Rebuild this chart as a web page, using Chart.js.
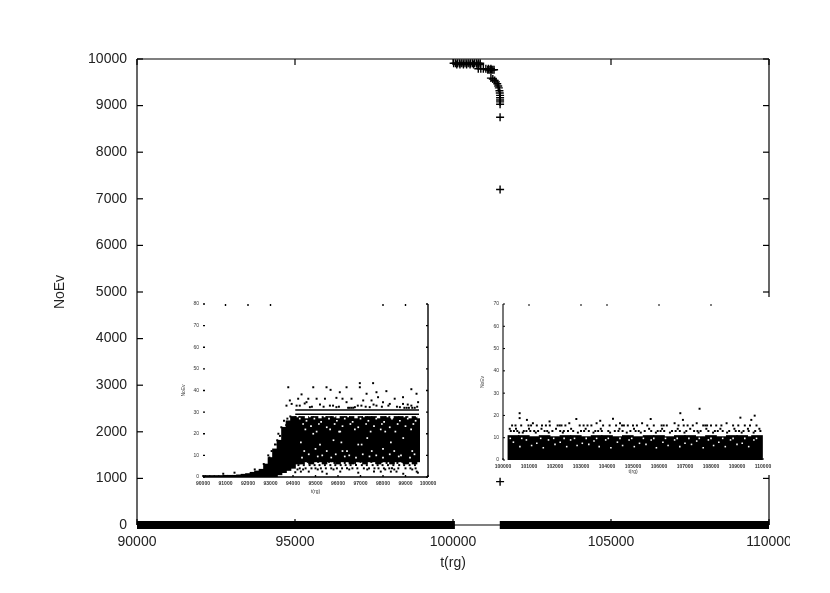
<!DOCTYPE html>
<html>
<head>
<meta charset="utf-8">
<script src="https://cdn.jsdelivr.net/npm/chart.js@4/dist/chart.umd.min.js"></script>
<style>
html, body { margin: 0; background: #fff; }
#page { position: relative; width: 790px; height: 593px; overflow: hidden; filter: blur(0.4px); }
canvas { position: absolute; display: block; }
#main { left: 0; top: 0; }
#inset_left { left: 178px; top: 297px; background: #fff; }
#inset_right { left: 476px; top: 297px; background: #fff; }
</style>
</head>
<body>
<div id="page">
<canvas id="main" width="830" height="593"></canvas>
<canvas id="inset_left" width="268" height="201"></canvas>
<canvas id="inset_right" width="300" height="178"></canvas>
</div>
<script>
// main plot
var mainXTicks = [90000, 95000, 100000, 105000, 110000];
var mainYTicks = [0, 1000, 2000, 3000, 4000, 5000, 6000, 7000, 8000, 9000, 10000];
var baseT1 = [90000, 100060];
var baseT2 = [101480, 110000];
var baseN = [0, 0];
var fallT = [100020, 100080, 100140, 100200, 100260, 100320, 100380, 100440, 100500, 100560, 100620, 100680, 100740, 100800, 100860, 100120, 100220, 100330, 100430, 100540, 100650, 100760, 100860, 100800, 100880, 100960, 101040, 101120, 101200, 101100, 101140, 101180, 101220, 101260, 101300, 101200, 101260, 101320, 101360, 101400, 101430, 101450, 101470, 101480, 101490, 101490, 101490, 101490, 101490, 101490, 101490, 101490];
var fallN = [9910, 9910, 9910, 9910, 9910, 9910, 9910, 9910, 9910, 9910, 9910, 9910, 9910, 9910, 9910, 9880, 9880, 9880, 9880, 9880, 9880, 9880, 9880, 9790, 9790, 9790, 9790, 9790, 9790, 9770, 9770, 9770, 9770, 9770, 9770, 9590, 9570, 9540, 9510, 9470, 9420, 9380, 9320, 9270, 9220, 9170, 9120, 9080, 9030, 8750, 7200, 930];

// left inset
var leftXTicks = [90000, 91000, 92000, 93000, 94000, 95000, 96000, 97000, 98000, 99000, 100000];
var leftYTicks = [0, 10, 20, 30, 40, 50, 60, 70, 80];
var leftTopTicks = [91000, 92000, 93000, 98000, 99000];
var leftBinT = [90000, 90200, 90400, 90600, 90800, 91000, 91200, 91400, 91600, 91800, 92000, 92200, 92400, 92600, 92800, 93000, 93200, 93400, 93600, 93800, 94000, 94200, 94400, 94600, 94800, 95000, 95200, 95400, 95600, 95800, 96000, 96200, 96400, 96600, 96800, 97000, 97200, 97400, 97600, 97800, 98000, 98200, 98400, 98600, 98800, 99000, 99200, 99400, 99520];
var leftBinLow = [0, 0, 0, 0, 0, 0, 0, 0, 0, 0, 0, 0, 0, 0, 0, 0, 0, 1, 2, 3, 4, 6, 6, 7, 6, 7, 7, 6, 7, 7, 6, 7, 7, 6, 7, 7, 6, 7, 7, 6, 7, 7, 6, 7, 7, 6, 7, 6, 7];
var leftBinHigh = [0.7, 0.7, 0.7, 0.7, 0.7, 0.8, 0.8, 0.8, 1, 1.3, 1.6, 2.2, 2.8, 3.6, 6, 9, 13, 17, 23, 26, 28, 28, 28, 27, 28, 28, 27, 28, 28, 28, 27, 28, 28, 28, 27, 28, 28, 28, 28, 27, 28, 28, 27, 28, 28, 28, 27, 28, 27];
var leftRowT = [94100, 99600];
var leftRowBlack = [31, 31];
var leftRowBlack2 = [29, 29];
var leftRowWhite = [30, 30];
// speckle above the band, along the rise and under the band
var leftDotT = [93790, 94900, 95490, 95670, 96380, 96970, 96970, 97560, 96080, 97270, 97710, 98150, 99260, 99490, 94380, 94230, 93860, 94680, 95050, 95420, 95930, 96200, 96600, 97120, 97490, 97780, 98520, 98890, 99560, 93710, 93940, 94600, 96380, 98000, 98890, 95640, 97040, 97710, 98300, 99260,
    94750, 95930, 96600, 96750, 97410, 98750, 99410, 94160, 96450, 96520, 96680, 98950, 99050, 99150, 99300, 94000, 93650, 93500, 93300, 93150, 92950, 92700, 92300, 91400, 90900,
    94300, 94520, 94840, 95200, 95360, 95780, 96040, 96880, 97230, 97580, 97950, 98240, 98620, 99100, 99520,
    93560, 93420, 93300, 93200, 93050, 92900, 93700, 93600, 93480, 93350, 93750, 93880,
    94100, 94350, 95300, 97900, 98350, 98600, 99500, 94200, 94450, 94700, 95100, 95500, 95800, 96100, 96500, 96900, 97300, 97600, 98100, 98500, 98900, 99300, 99550,
    94300, 94560, 94820, 95000, 95240, 95460, 95700, 95950, 96180, 96400, 96640, 96860, 97150, 97380, 97620, 97800, 98040, 98280, 98400, 98680, 99000, 99220, 99450,
    94240, 94480, 94740, 94960, 95180, 95420, 95660, 95880, 96120, 96340, 96560, 96800, 97060, 97280, 97540, 97760, 97980, 98220, 98460, 98720, 98940, 99180, 99420,
    94150, 94420, 94660, 94900, 95120, 95380, 95600, 95840, 96060, 96300, 96520, 96760, 97000, 97240, 97480, 97700, 97940, 98160, 98420, 98640, 98860, 99120, 99360];
var leftDotN = [41.5, 41.5, 41.5, 40.3, 41.5, 43.4, 41.5, 43.4, 39.2, 38.5, 39.2, 39.7, 40.6, 38.5, 38.2, 36.2, 35.4, 36.2, 36.2, 36.2, 36.6, 36.2, 36.2, 35.4, 35.4, 36.9, 36.2, 36.9, 34.6, 33, 33.8, 34.6, 34.6, 34.6, 33.8, 33, 33, 33, 33.8, 33,
    32.3, 32.3, 32, 32.3, 32.3, 32.3, 32, 33, 32, 32, 32, 32, 32, 32, 32, 24, 19, 16, 15, 12, 9, 6, 3.5, 2, 1.5,
    33, 34, 32.5, 33.5, 32.5, 33, 32.5, 33, 32.5, 33.5, 32.5, 33, 32.5, 33.5, 32.5,
    21, 19, 17, 15, 12, 10, 24, 26, 23, 20, 27, 28,
    2.2, 2.5, 2.5, 2.5, 2.5, 2.5, 2.5, 3.5, 3.5, 2.5, 3.5, 1.5, 3.5, 2.5, 3.5, 2, 3.5, 2.5, 3.5, 3.5, 1.5, 3.5, 2,
    4, 4, 4, 4, 4, 4, 4, 4, 4, 4, 4, 4, 4, 4, 4, 4, 4, 4, 4, 4, 4, 4, 4,
    5.5, 5.5, 5.5, 5.5, 5.5, 5.5, 5.5, 5.5, 5.5, 5.5, 5.5, 5.5, 5.5, 5.5, 5.5, 5.5, 5.5, 5.5, 5.5, 5.5, 5.5, 5.5, 5.5,
    7, 6.5, 7, 6.5, 7, 6.5, 7, 6.5, 7, 6.5, 7, 6.5, 7, 6.5, 7, 6.5, 7, 6.5, 7, 6.5, 7, 6.5, 7];
var leftHoleT = [94300, 94600, 94950, 95250, 95600, 95950, 96300, 96650, 97000, 97350, 97700, 98050, 98400, 98750, 99100, 99450, 94450, 94800, 95150, 95500, 95850, 96200, 96550, 96900, 97250, 97600, 97950, 98300, 98650, 99000, 99350, 94900, 95800, 96100, 97300, 98100, 98900, 95000, 96200, 96900, 98000, 99300,
    94400, 95100, 95700, 96300, 96800, 97400, 98000, 98700, 99200, 94700, 95300, 95900, 96500, 97100, 97700, 98300, 98800, 99400, 94500, 95500, 96400, 97500, 98500,
    94200, 94750, 95400, 95850, 96450, 97150, 97800, 98200, 98950, 99500, 94550, 95050, 95650, 96050, 96750, 97450, 97900, 98550, 99250, 94350, 95200, 96150, 97050, 98350];
var leftHoleN = [27, 26, 27, 25.5, 27, 26, 27, 25.5, 27, 26, 27, 25.5, 27, 26, 27, 26, 24.5, 23.5, 24.5, 23, 24.5, 23.5, 24.5, 23, 24.5, 23.5, 24.5, 23, 24.5, 23.5, 24.5, 20, 17, 21, 18, 21, 18, 13, 12, 15, 13, 12,
    9, 9.5, 9, 9.5, 9, 9.5, 9, 9.5, 9, 10.5, 10, 10.5, 10, 10.5, 10, 10.5, 10, 10.5, 12, 12, 12, 12, 12,
    28, 28, 28, 28, 28, 28, 28, 28, 28, 28, 22, 21, 22, 21, 22, 21, 22, 21, 22, 16, 15, 16, 15, 16];

// right inset
var rightXTicks = [100000, 101000, 102000, 103000, 104000, 105000, 106000, 107000, 108000, 109000, 110000];
var rightYTicks = [0, 10, 20, 30, 40, 50, 60, 70];
var rightTopTicks = [101000, 103000, 104000, 106000, 108000];
var rightBinT = [100400, 100800, 101200, 101600, 102000, 102400, 102800, 103200, 103600, 104000, 104400, 104800, 105200, 105600, 106000, 106400, 106800, 107200, 107600, 108000, 108400, 108800, 109200, 109600, 109770];
var rightBinLow = [0, 0, 0, 0, 0, 0, 0, 0, 0, 0, 0, 0, 0, 0, 0, 0, 0, 0, 0, 0, 0, 0, 0, 0, 0];
var rightBinHigh = [11, 11, 10.5, 11, 10.5, 11, 11, 10.5, 11, 11, 10.5, 11, 10.5, 11, 11, 10.5, 11, 11, 10.5, 11, 10.5, 11, 11, 10.5, 11];
var rightDotT = [100640, 100920, 102820, 104230, 105680, 106820, 107560, 106920, 109680, 109550, 109130, 101790, 103740, 100640,
    100350, 100480, 100700, 100980, 101080, 101150, 101300, 101500, 101650, 101800, 102100, 102180, 102250, 102400, 102550, 102950, 103100, 103250, 103400, 103600, 103850, 104100, 104350, 104500, 104580, 104650, 104800, 105000, 105150, 105350, 105550, 105800, 106100, 106180, 106300, 106600, 106750, 106950, 107100, 107300, 107450, 107700, 107780, 107850, 108000, 108200, 108400, 108600, 108850, 109050, 109300, 109500, 109750,
    100300, 100420, 100550, 100800, 100900, 101050, 101200, 101350, 101600, 101700, 101900, 102200, 102340, 102500, 102700, 103000, 103120, 103300, 103550, 103660, 103800, 104050, 104300, 104440, 104600, 104900, 105100, 105220, 105450, 105700, 105950, 106060, 106200, 106500, 106640, 106800, 107050, 107350, 107480, 107600, 107900, 108150, 108260, 108450, 108700, 108950, 109080, 109250, 109450, 109700, 109900,
    100260, 100500, 100620, 100760, 101000, 101260, 101480, 101760, 102040, 102300, 102620, 102880, 103180, 103480, 103760, 104120, 104480, 104760, 105040, 105300, 105620, 105880, 106120, 106420, 106720, 106980, 107200, 107520, 107820, 108080, 108360, 108620, 108900, 109180, 109420, 109640, 109860];
var rightDotN = [21, 18, 18.4, 18.5, 18.4, 21, 23, 18, 19.9, 18, 19, 17.3, 17.6, 18.8,
    15.5, 15.5, 15.5, 15.5, 15.5, 16.5, 15.5, 15.5, 15.5, 15.5, 15.5, 15.5, 15.5, 15.5, 16.5, 15.5, 15.5, 15.5, 15.5, 16.5, 15.5, 15.5, 15.5, 16.5, 15.5, 15.5, 15.5, 15.5, 15.5, 16.5, 15.5, 15.5, 15.5, 15.5, 15.5, 16.5, 15.5, 15.5, 15.5, 15.5, 16.5, 15.5, 15.5, 15.5, 15.5, 15.5, 15.5, 16.5, 15.5, 15.5, 15.5, 15.5, 15.5,
    13, 13, 13, 13, 13, 13, 13, 13, 13, 13, 13, 13, 13, 13, 13, 13, 13, 13, 13, 13, 13, 13, 13, 13, 13, 13, 13, 13, 13, 13, 13, 13, 13, 13, 13, 13, 13, 13, 13, 13, 13, 13, 13, 13, 13, 13, 13, 13, 13, 13, 13,
    14, 14, 12.3, 12.3, 14, 12.3, 14, 12.3, 14, 12.3, 14, 12.3, 14, 12.3, 14, 12.3, 14, 12.3, 14, 12.3, 14, 12.3, 14, 12.3, 14, 12.3, 14, 12.3, 14, 12.3, 14, 12.3, 14, 12.3, 14, 12.3, 14];
var rightHoleT = [100400, 100900, 101300, 101750, 102200, 102600, 103050, 103500, 103950, 104400, 104850, 105250, 105700, 106150, 106600, 107000, 107450, 107900, 108300, 108750, 109200, 109650, 100650, 101100, 101550, 102000, 102450, 102850, 103300, 103700, 104150, 104600, 105050, 105500, 105900, 106350, 106800, 107250, 107700, 108100, 108550, 109000, 109450,
    100280, 100720, 101450, 101950, 102350, 102750, 103200, 103600, 104050, 104500, 104950, 105400, 105800, 106250, 106700, 107150, 107550, 108000, 108450, 108850, 109300, 109750];
var rightHoleN = [8, 9, 7.5, 9, 8, 9, 7.5, 8.5, 9, 8, 9, 7.5, 9, 8, 9, 7.5, 8.5, 9, 8, 9, 7.5, 9, 6, 6.5, 5.5, 7, 6, 6.5, 7, 6, 5.5, 6.5, 6, 7, 5.5, 6.5, 6, 7, 5.5, 6.5, 6, 7, 6,
    9.7, 9.7, 9.7, 9.7, 9.7, 9.7, 9.7, 9.7, 9.7, 9.7, 9.7, 9.7, 9.7, 9.7, 9.7, 9.7, 9.7, 9.7, 9.7, 9.7, 9.7, 9.7];

function points(xs, ys) {
    return xs.map(function (x, i) { return { x: x, y: ys[i] }; });
}
function bins(xs, lows, highs) {
    return xs.map(function (x, i) { return { x: x, y: [lows[i], highs[i]] }; });
}
function label(v) { return String(v); }

// gnuplot style frame with inward ticks
var frame = {
    id: 'frame',
    afterDatasetsDraw: function (chart, args, o) {
        var a = chart.chartArea, c = chart.ctx, sx = chart.scales.x, sy = chart.scales.y;
        c.save();
        c.lineWidth = o.width;
        c.strokeStyle = '#000';
        function seg(x1, y1, x2, y2) {
            c.beginPath(); c.moveTo(x1, y1); c.lineTo(x2, y2); c.stroke();
        }
        if (o.sides.left) { c.strokeStyle = o.leftColor || '#000'; c.lineWidth = o.leftWidth || o.width; seg(a.left, a.top, a.left, a.bottom); c.strokeStyle = '#000'; c.lineWidth = o.width; }
        if (o.sides.right) seg(a.right, a.top, a.right, a.bottom);
        if (o.sides.top) seg(a.left, a.top, a.right, a.top);
        if (o.sides.bottom) seg(a.left, a.bottom, a.right, a.bottom);
        sy.ticks.forEach(function (t) {
            var y = sy.getPixelForValue(t.value);
            seg(a.left, y, a.left + o.len, y);
            if (o.rightTicks) seg(a.right, y, a.right - o.len, y);
        });
        sx.ticks.forEach(function (t) {
            var x = sx.getPixelForValue(t.value);
            seg(x, a.bottom, x, a.bottom - o.len);
        });
        o.topTicks.forEach(function (v) {
            var x = sx.getPixelForValue(v);
            seg(x, a.top, x, a.top + o.len);
        });
        c.restore();
    }
};

new Chart(document.getElementById('main'), {
    type: 'scatter',
    plugins: [frame],
    data: {
        datasets: [
            { data: points(fallT, fallN), pointStyle: 'cross', radius: 4, borderColor: '#000', borderWidth: 1.4, clip: false },
            { data: points(baseT1, baseN), showLine: true, borderColor: '#000', borderWidth: 8, pointRadius: 0, clip: false },
            { data: points(baseT2, baseN), showLine: true, borderColor: '#000', borderWidth: 8, pointRadius: 0, clip: false }
        ]
    },
    options: {
        responsive: false,
        animation: false,
        layout: { padding: { top: 59, right: 61 } },
        plugins: {
            legend: { display: false },
            tooltip: { enabled: false },
            frame: { sides: { left: true, right: true, top: true, bottom: true }, width: 1.2, len: 6, rightTicks: true, topTicks: mainXTicks }
        },
        scales: {
            x: {
                type: 'linear', min: 90000, max: 110000,
                afterBuildTicks: function (s) { s.ticks = mainXTicks.map(function (v) { return { value: v }; }); },
                afterFit: function (s) { s.height = 68; },
                grid: { display: false, drawTicks: false },
                border: { display: false },
                ticks: { callback: label, autoSkip: false, maxRotation: 0, padding: 9, color: '#222', font: { family: 'Liberation Sans', size: 14 } },
                title: { display: true, text: 't(rg)', color: '#222', padding: { top: 0, bottom: 21 }, font: { family: 'Liberation Sans', size: 14 } }
            },
            y: {
                type: 'linear', min: 0, max: 10000,
                afterBuildTicks: function (s) { s.ticks = mainYTicks.map(function (v) { return { value: v }; }); },
                afterFit: function (s) { s.width = 137; },
                grid: { display: false, drawTicks: false },
                border: { display: false },
                ticks: { callback: label, autoSkip: false, padding: 10, color: '#222', font: { family: 'Liberation Sans', size: 14 } },
                title: { display: true, text: 'NoEv', color: '#222', padding: { top: 52, bottom: 0 }, font: { family: 'Liberation Sans', size: 14 } }
            }
        }
    }
});

function inset(id, cfg) {
    return new Chart(document.getElementById(id), {
        type: 'scatter',
        plugins: [frame],
        data: { datasets: cfg.datasets },
        options: {
            responsive: false,
            animation: false,
            layout: { padding: cfg.padding },
            plugins: {
                legend: { display: false },
                tooltip: { enabled: false },
                frame: cfg.frame
            },
            scales: {
                x: {
                    type: 'linear', min: cfg.xTicks[0], max: cfg.xTicks[cfg.xTicks.length - 1], offset: false,
                    afterBuildTicks: function (s) { s.ticks = cfg.xTicks.map(function (v) { return { value: v }; }); },
                    afterFit: function (s) { s.height = cfg.xHeight; },
                    grid: { display: false, drawTicks: false },
                    border: { display: false },
                    ticks: { callback: label, autoSkip: false, maxRotation: 0, padding: 4, color: '#333', font: { family: 'Liberation Sans', size: 5, weight: 'bold' } },
                    title: { display: true, text: 't(rg)', color: '#333', padding: { top: 0, bottom: cfg.xTitlePad }, font: { family: 'Liberation Sans', size: 5 } }
                },
                y: {
                    type: 'linear', min: 0, max: cfg.yTicks[cfg.yTicks.length - 1],
                    afterBuildTicks: function (s) { s.ticks = cfg.yTicks.map(function (v) { return { value: v }; }); },
                    afterFit: function (s) { s.width = cfg.yWidth; },
                    grid: { display: false, drawTicks: false },
                    border: { display: false },
                    ticks: { callback: label, autoSkip: false, padding: 4, color: '#333', font: { family: 'Liberation Sans', size: 5 } },
                    title: { display: true, text: 'NoEv', color: '#333', padding: { top: cfg.yTitlePad, bottom: 0 }, font: { family: 'Liberation Sans', size: 5 } }
                }
            }
        }
    });
}

inset('inset_left', {
    xTicks: leftXTicks, yTicks: leftYTicks,
    padding: { top: 5, right: 18 },
    xHeight: 21, xTitlePad: 3, yWidth: 25, yTitlePad: 3,
    frame: { sides: { right: true, bottom: true }, width: 1.4, len: 2, rightTicks: true, topTicks: leftTopTicks },
    datasets: [
        { data: points(leftDotT, leftDotN), pointStyle: 'rect', radius: 1.4, borderWidth: 0, backgroundColor: '#000', order: 0 },
        { data: points(leftRowT, leftRowBlack), showLine: true, borderColor: '#000', borderWidth: 1.5, pointRadius: 0, order: 0 },
        { data: points(leftRowT, leftRowBlack2), showLine: true, borderColor: '#000', borderWidth: 1.5, pointRadius: 0, order: 0 },
        { data: points(leftRowT, leftRowWhite), showLine: true, borderColor: '#fff', borderWidth: 1.5, pointRadius: 0, order: 1 },
        { data: points(leftHoleT, leftHoleN), pointStyle: 'rect', radius: 1.2, borderWidth: 0, backgroundColor: '#fff', order: 1 },
        { type: 'bar', data: bins(leftBinT, leftBinLow, leftBinHigh), backgroundColor: '#000', barThickness: 5, order: 2 }
    ]
});

inset('inset_right', {
    xTicks: rightXTicks, yTicks: rightYTicks,
    padding: { top: 6, right: 13 },
    xHeight: 15, xTitlePad: 0, yWidth: 27, yTitlePad: 4,
    frame: { sides: { left: true }, leftColor: '#777', leftWidth: 2, width: 1, len: 2, rightTicks: false, topTicks: rightTopTicks },
    datasets: [
        { data: points(rightDotT, rightDotN), pointStyle: 'rect', radius: 1.4, borderWidth: 0, backgroundColor: '#000', order: 0 },
        { data: points(rightHoleT, rightHoleN), pointStyle: 'rect', radius: 1.1, borderWidth: 0, backgroundColor: '#fff', order: 1 },
        { type: 'bar', data: bins(rightBinT, rightBinLow, rightBinHigh), backgroundColor: '#000', barThickness: 11, order: 2 }
    ]
});
</script>
</body>
</html>
